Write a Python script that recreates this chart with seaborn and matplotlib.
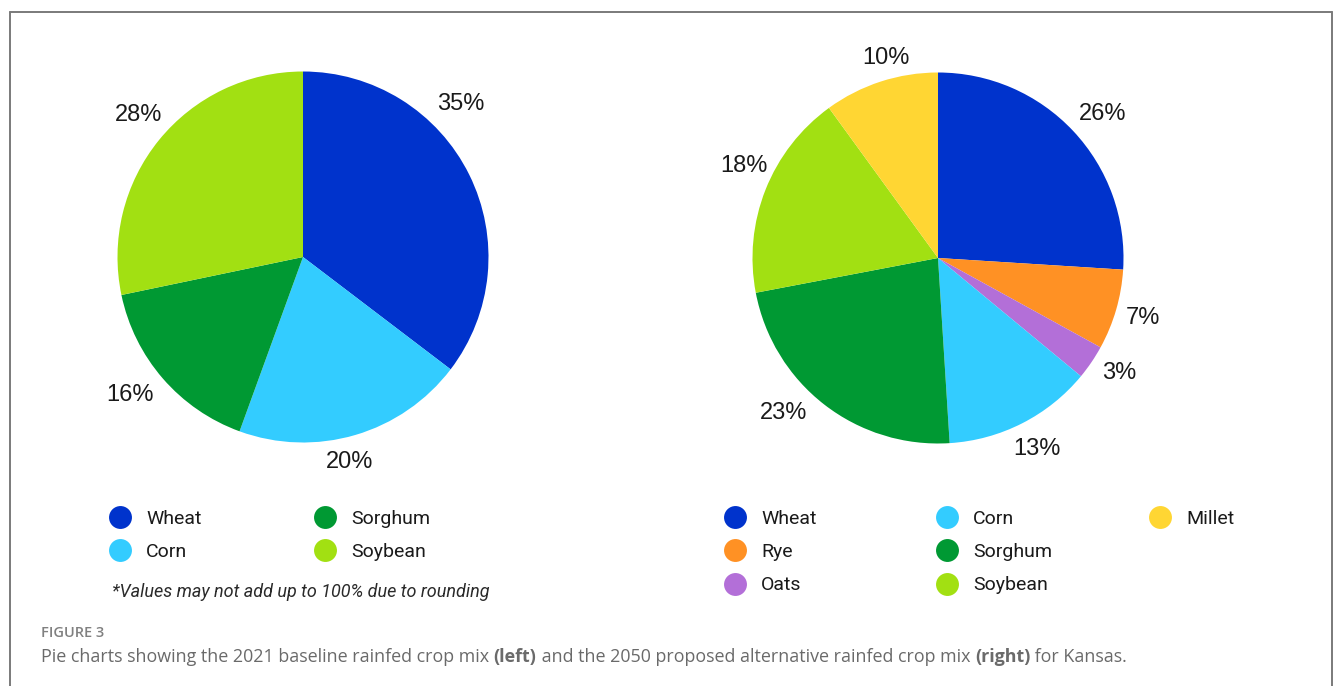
import matplotlib
matplotlib.use("Agg")
import matplotlib.pyplot as plt
from matplotlib.lines import Line2D
import seaborn as sns

# ---------------- data ----------------
crops_2021 = ["Wheat", "Corn", "Sorghum", "Soybean"]
share_2021 = [35, 20, 16, 28]

crops_2050 = ["Wheat", "Rye", "Oats", "Corn", "Sorghum", "Soybean", "Millet"]
share_2050 = [26, 7, 3, 13, 23, 18, 10]

legend_cols_2021 = [["Wheat", "Corn"], ["Sorghum", "Soybean"]]
legend_cols_2050 = [["Wheat", "Rye", "Oats"], ["Corn", "Sorghum", "Soybean"], ["Millet"]]

footnote = "*Values may not add up to 100% due to rounding"
fig_label = "FIGURE 3"
caption_parts = [
    ("Pie charts showing the 2021 baseline rainfed crop mix ", "normal"),
    ("(left)", "bold"),
    (" and the 2050 proposed alternative rainfed crop mix ", "normal"),
    ("(right)", "bold"),
    (" for Kansas.", "normal"),
]

# ---------------- style ----------------
colors = {
    "Wheat": "#0033CC",
    "Corn": "#33CCFF",
    "Sorghum": "#009933",
    "Soybean": "#A2E012",
    "Rye": "#FF9124",
    "Oats": "#B36FD8",
    "Millet": "#FFD633",
}

sns.set_theme(style="white")
plt.rcParams["font.family"] = ["Liberation Sans", "DejaVu Sans"]

W, H = 1335, 686
fig = plt.figure(figsize=(W / 100, H / 100), dpi=100)
fig.patch.set_facecolor("white")


def fx(px):
    return px / W


def fy(py):
    return 1 - py / H


# border frame (open at bottom)
for xs, ys in [([10, 10], [12, H]), ([10, 1332], [12, 12]), ([1332, 1332], [12, H])]:
    fig.add_artist(Line2D([fx(v) for v in xs], [fy(v) for v in ys],
                          color="#7a7a7a", lw=1.4, transform=fig.transFigure))

R = 185.5          # pie radius in pixels
LIM = 1.25


def pie_axes(cx, cy):
    half = R * LIM
    return fig.add_axes([fx(cx - half), fy(cy + half), 2 * half / W, 2 * half / H])


# label offsets (in radius units) relative to pie centre
label_pos_2021 = [(0.85, 0.825), (0.25, -1.105), (-0.93, -0.745), (-0.885, 0.765)]
label_pos_2050 = [(0.89, 0.775), (1.105, -0.325), (0.975, -0.62), (0.535, -1.03),
                  (-0.835, -0.835), (-1.045, 0.495), (-0.28, 1.08)]


def draw_pie(ax, names, vals, lpos):
    wedges, texts = ax.pie(
        vals,
        colors=[colors[n] for n in names],
        startangle=90,
        counterclock=False,
        labels=[f"{v}%" for v in vals],
        labeldistance=1.15,
        wedgeprops=dict(linewidth=0),
        textprops=dict(fontsize=17, color="#1a1a1a"),
    )
    for t, (x, y) in zip(texts, lpos):
        t.set_position((x, y))
        t.set_ha("center")
        t.set_va("center")
    ax.set_xlim(-LIM, LIM)
    ax.set_ylim(-LIM, LIM)
    ax.set_aspect("equal")
    ax.axis("off")


ax1 = pie_axes(303, 257)
draw_pie(ax1, crops_2021, share_2021, label_pos_2021)
ax2 = pie_axes(938, 258)
draw_pie(ax2, crops_2050, share_2050, label_pos_2050)

# legends: one legend per column for exact placement
FS = 14
ms = 16.5


def add_legend_column(ax, names, marker_x, top_y):
    handles = [Line2D([0], [0], marker="o", linestyle="", markersize=ms,
                      markerfacecolor=colors[n], markeredgewidth=0) for n in names]
    hl = 1.4
    handle_w = hl * FS * 100 / 72
    leg = ax.legend(
        handles, names,
        loc="upper left",
        bbox_to_anchor=(fx(marker_x - handle_w / 2), fy(top_y)),
        bbox_transform=fig.transFigure,
        frameon=False,
        borderpad=0, borderaxespad=0,
        handlelength=hl, handletextpad=0.65,
        labelspacing=0.78,
        prop=dict(family="Roboto", size=FS),
        labelcolor="#1a1a1a",
    )
    ax.add_artist(leg)
    ax.legend_ = None


for i, col in enumerate(legend_cols_2021):
    add_legend_column(ax1, col, [120, 325][i], 510)
for i, col in enumerate(legend_cols_2050):
    add_legend_column(ax2, col, [735, 947, 1160][i], 510)

fig.text(fx(112), fy(592), footnote, fontsize=13, style="italic",
         family="Roboto", color="#2a2a2a", ha="left", va="center")

fig.text(fx(41), fy(633), fig_label, fontsize=10.5, family="Open Sans",
         weight="semibold", color="#808080", ha="left", va="center")

# caption with mixed weights
fig.canvas.draw()
renderer = fig.canvas.get_renderer()
x = 41
for txt, wt in caption_parts:
    t = fig.text(fx(x), fy(657), txt, fontsize=12.9, family="Open Sans",
                 weight=wt, color="#6a6a6a", ha="left", va="center")
    bb = t.get_window_extent(renderer=renderer)
    x += bb.width

fig.savefig("out.png", dpi=100, facecolor="white")
